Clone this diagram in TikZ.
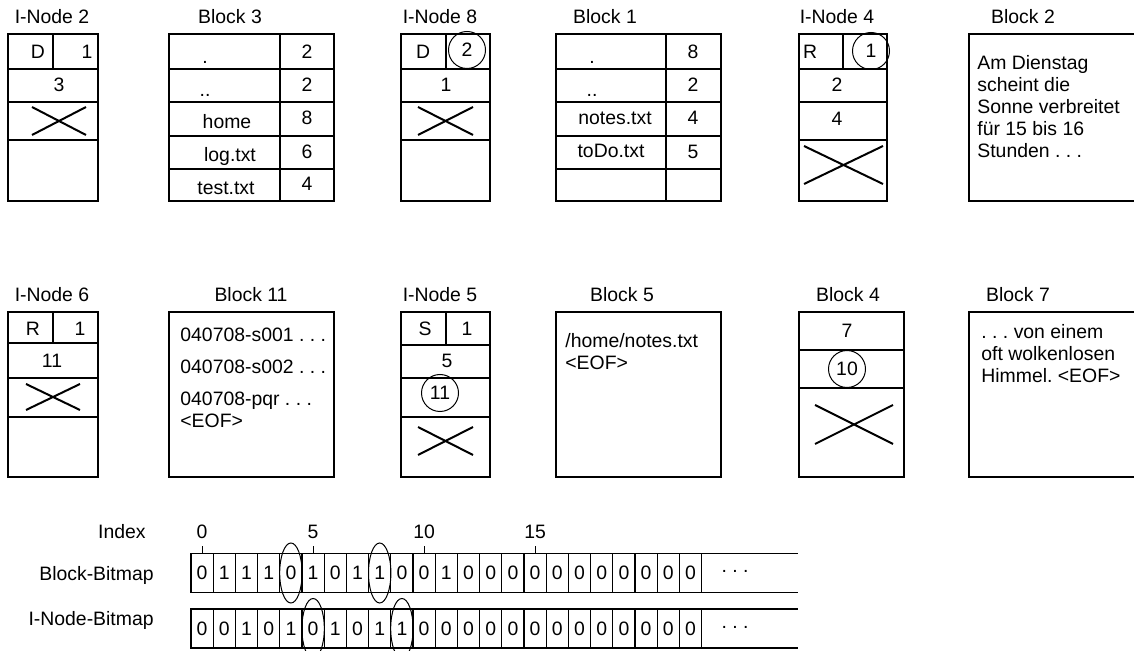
\documentclass[tikz,border=0pt]{standalone}
\usepackage{fontspec}
\setmainfont{Liberation Sans}
\usepackage{tikz}
\usetikzlibrary{positioning, calc}

\tikzset{
    frame/.style={draw, line width=1pt},
    cross/.style={line width=1pt},
    txt/.style={inner sep=0pt},
    entry/.style={inner sep=0pt, anchor=base},
    para/.style={inner sep=0pt, anchor=north west, align=left},
    hilite/.style={circle, draw, line width=0.5pt, inner sep=0pt, minimum size=18.5pt},
    bit/.style={rectangle, draw, line width=0.65pt, inner sep=0pt, outer sep=0pt,
                minimum width=11.1pt, minimum height=19.5pt},
    rowline/.style={line width=0.9pt},
    tick/.style={line width=0.5pt},
    oval/.style={line width=0.5pt}
}

\begin{document}
\begin{tikzpicture}[x=0.5pt, y=-0.5pt, font=\fontsize{9.7}{11}\selectfont\frenchspacing]
    \useasboundingbox (0,0) rectangle (1134,651);
    \clip (0,0) rectangle (1134,651);

    % I-Node 2
    \node[txt] (in2lbl) at (52,17) {I-Node 2};
    \draw[frame] (8,34) rectangle (98,201);
    \draw[frame] (8,69) -- (98,69) (8,102) -- (98,102) (8,140) -- (98,140) (53,34) -- (53,69);
    \draw[cross] (32,107) -- (86,135) (32,135) -- (86,107);
    \node[txt] (in2type) at (38,52) {D};
    \node[txt] (in2links) at (87,52) {1};
    \node[txt] (in2blk) at (59,85) {3};

    % Block 3
    \node[txt] (b3lbl) at (230,17) {Block 3};
    \draw[frame] (169,34) rectangle (334,201);
    \draw[frame] (280,34) -- (280,201);
    \draw[frame] (169,69) -- (334,69) (169,102) -- (334,102) (169,136) -- (334,136) (169,169) -- (334,169);
    \node[entry] (b3self) at (205,64) {.};
    \node[entry] (b3up) at (205,97) {..};
    \node[entry] (b3home) at (227,129) {home};
    \node[entry] (b3log) at (230,162) {log.txt};
    \node[entry] (b3test) at (226,195) {test.txt};
    \node[txt] (b3n1) at (307,52) {2};
    \node[txt] (b3n2) at (307,85) {2};
    \node[txt] (b3n3) at (307,118) {8};
    \node[txt] (b3n4) at (307,152) {6};
    \node[txt] (b3n5) at (307,184) {4};

    % I-Node 8
    \node[txt] (in8lbl) at (440,17) {I-Node 8};
    \draw[frame] (401,34) rectangle (490,201);
    \draw[frame] (401,69) -- (490,69) (401,102) -- (490,102) (401,140) -- (490,140) (446,34) -- (446,69);
    \draw[cross] (418,107) -- (473,135) (418,135) -- (473,107);
    \node[txt] (in8type) at (423,52) {D};
    \node[hilite] (in8links) at (467,50) {2};
    \node[txt] (in8blk) at (446,85) {1};

    % Block 1
    \node[txt] (b1lbl) at (605,17) {Block 1};
    \draw[frame] (556,34) rectangle (721,201);
    \draw[frame] (666,34) -- (666,201);
    \draw[frame] (556,69) -- (721,69) (556,102) -- (721,102) (556,136) -- (721,136) (556,169) -- (721,169);
    \node[entry] (b1self) at (592,64) {.};
    \node[entry] (b1up) at (592,97) {..};
    \node[txt] (b1notes) at (615,118) {notes.txt};
    \node[txt] (b1todo) at (611,151) {toDo.txt};
    \node[txt] (b1n1) at (693,52) {8};
    \node[txt] (b1n2) at (693,85) {2};
    \node[txt] (b1n3) at (693,118) {4};
    \node[txt] (b1n4) at (693,152) {5};

    % I-Node 4
    \node[txt] (in4lbl) at (837,17) {I-Node 4};
    \draw[frame] (799,34) rectangle (887,201);
    \draw[frame] (799,69) -- (887,69) (799,102) -- (887,102) (799,140) -- (887,140) (843,34) -- (843,69);
    \draw[cross] (804,146) -- (883,184) (804,184) -- (883,146);
    \node[txt] (in4type) at (810,52) {R};
    \node[hilite] (in4links) at (871,51) {1};
    \node[txt] (in4blk1) at (837,85) {2};
    \node[txt] (in4blk2) at (837,119) {4};

    % Block 2
    \node[txt] (b2lbl) at (1023,17) {Block 2};
    \draw[frame] (969,34) rectangle (1150,201);
    \node[para] (b2text) at (977,55) {Am Dienstag\\scheint die\\Sonne verbreitet\\für 15 bis 16\\Stunden .~.~.};

    % I-Node 6
    \node[txt] (in6lbl) at (52,295) {I-Node 6};
    \draw[frame] (8,312) rectangle (98,477);
    \draw[frame] (8,343) -- (98,343) (8,378) -- (98,378) (8,417) -- (98,417) (53,312) -- (53,343);
    \draw[cross] (26,384) -- (80,410) (26,410) -- (80,384);
    \node[txt] (in6type) at (33,329) {R};
    \node[txt] (in6links) at (80,329) {1};
    \node[txt] (in6blk) at (52,361) {11};

    % Block 11
    \node[txt] (b11lbl) at (251,295) {Block 11};
    \draw[frame] (169,312) rectangle (334,477);
    \node[para] (b11text) at (180,328) {040708-s001 .~.~.\\[5pt]040708-s002 .~.~.\\[5pt]040708-pqr .~.~.\\<EOF>};

    % I-Node 5
    \node[txt] (in5lbl) at (440,295) {I-Node 5};
    \draw[frame] (401,312) rectangle (490,477);
    \draw[frame] (401,345) -- (490,345) (401,378) -- (490,378) (401,417) -- (490,417) (446,312) -- (446,345);
    \draw[cross] (418,427) -- (473,455) (418,455) -- (473,427);
    \node[txt] (in5type) at (425,329) {S};
    \node[txt] (in5links) at (467,329) {1};
    \node[txt] (in5blk1) at (447,361) {5};
    \node[hilite] (in5blk2) at (440,393) {11};

    % Block 5
    \node[txt] (b5lbl) at (622,295) {Block 5};
    \draw[frame] (556,312) rectangle (721,477);
    \node[para] (b5text) at (565,333) {/home/notes.txt\\<EOF>};

    % Block 4
    \node[txt] (b4lbl) at (848,295) {Block 4};
    \draw[frame] (799,312) rectangle (904,477);
    \draw[frame] (799,350) -- (904,350) (799,388) -- (904,388);
    \draw[cross] (815,405) -- (893,444) (815,444) -- (893,405);
    \node[txt] (b4n1) at (847,331) {7};
    \node[hilite] (b4n2) at (847,369) {10};

    % Block 7
    \node[txt] (b7lbl) at (1018,295) {Block 7};
    \draw[frame] (969,312) rectangle (1150,477);
    \node[para] (b7text) at (981,324) {.~.~. von einem\\oft wolkenlosen\\Himmel. <EOF>};

    % Bitmaps
    \node[txt, anchor=east] (idxlbl) at (146,532) {Index};
    \node[txt, anchor=east] (bblbl) at (154,575) {Block-Bitmap};
    \node[txt, anchor=east] (iblbl) at (154,620) {I-Node-Bitmap};
    \foreach \b [count=\i from 0] in {0,1,1,1,0,1,0,1,1,0,0,1,0,0,0,0,0,0,0,0,0,0,0}
        \node[bit] (bb\i) at ({202.1+22.2*\i},573) {\b};
    \foreach \b [count=\i from 0] in {0,0,1,0,1,0,1,0,1,1,0,0,0,0,0,0,0,0,0,0,0,0,0}
        \node[bit] (ib\i) at ({202.1+22.2*\i},628.5) {\b};
    \draw[rowline] (bb0.north west) -- ++(607,0) (bb0.south west) -- ++(607,0);
    \draw[rowline] (ib0.north west) -- ++(607,0) (ib0.south west) -- ++(607,0);
    \node[entry] (bbmore) at (735,572) {.~.~.};
    \node[entry] (ibmore) at (735,628) {.~.~.};
    \foreach \k in {0,5,10,15}
        \draw[tick] (bb\k.north) -- ++(0,-8) node[txt, above=3pt] (idx\k) {\k};
    \draw[oval] (bb4.center) ellipse [x radius=5.6pt, y radius=15pt];
    \draw[oval] (bb8.center) ellipse [x radius=5.6pt, y radius=15pt];
    \draw[oval] (ib5.center) ellipse [x radius=5.6pt, y radius=15pt];
    \draw[oval] (ib9.center) ellipse [x radius=5.6pt, y radius=15pt];
\end{tikzpicture}
\end{document}
